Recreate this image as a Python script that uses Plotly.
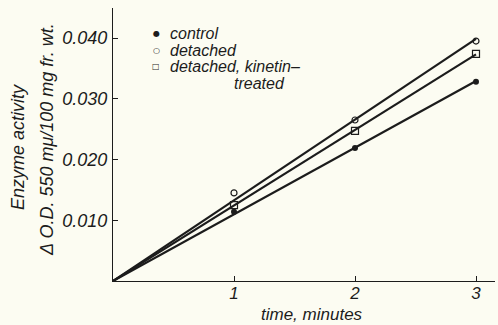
import plotly.graph_objects as go

# Time points (minutes) and measured enzyme activity (delta O.D. 550 mμ / 100 mg fr. wt.)
time_min = [1, 2, 3]
control = [0.0114, 0.0219, 0.0328]
detached = [0.0145, 0.0265, 0.0395]
detached_kinetin = [0.0125, 0.0247, 0.0374]

x_ticks = [1, 2, 3]
y_ticks = [0.010, 0.020, 0.030, 0.040]

FONT = "Liberation Sans"
INK = "#1c1c1c"
BG = "#fcfcf2"


def slope_through_origin(xs, ys):
    return sum(x * y for x, y in zip(xs, ys)) / sum(x * x for x in xs)


fig = go.Figure()

series = [
    (control, dict(symbol="circle", size=6, color=INK, line=dict(width=0))),
    (detached, dict(symbol="circle-open", size=6, color=INK, line=dict(width=1.2))),
    (detached_kinetin, dict(symbol="square-open", size=7, color=INK, line=dict(width=1.2))),
]

for values, marker in series:
    k = slope_through_origin(time_min, values)
    line_x = [0, time_min[-1]]
    fig.add_trace(go.Scatter(x=line_x, y=[k * t for t in line_x], mode="lines",
                             line=dict(color=INK, width=2.2), hoverinfo="skip"))
    fig.add_trace(go.Scatter(x=time_min, y=values, mode="markers", marker=marker))

fig.update_layout(
    width=498, height=325,
    margin=dict(l=113, r=3, t=8, b=44),
    paper_bgcolor=BG, plot_bgcolor=BG,
    showlegend=False,
    font=dict(family=FONT, color=INK),
)

fig.update_xaxes(
    range=[0, 3.157], tickvals=x_ticks, ticktext=[str(v) for v in x_ticks],
    ticks="inside", ticklen=5, tickcolor=INK, tickwidth=1,
    showline=True, linecolor=INK, linewidth=1.2, showgrid=False, zeroline=False,
    tickfont=dict(family=FONT, size=17, style="italic", color=INK),
    ticklabelstandoff=-4,
)
fig.update_yaxes(
    range=[0, 0.04494], tickvals=y_ticks, tickformat=".3f",
    ticks="inside", ticklen=5, tickcolor=INK, tickwidth=1,
    showline=True, linecolor=INK, linewidth=1.2, showgrid=False, zeroline=False,
    tickfont=dict(family=FONT, size=18, style="italic", color=INK),
    ticklabelstandoff=1,
)

ann_font = dict(family=FONT, size=18, style="italic", color=INK)

# Axis titles
fig.add_annotation(text="Enzyme activity", xref="paper", yref="paper", x=-0.2487, y=0.491,
                   xanchor="center", yanchor="middle",
                   textangle=-90, showarrow=False, font=ann_font)
fig.add_annotation(text="Δ O.D. 550 mμ/100 mg fr. wt.", xref="paper", yref="paper",
                   x=-0.1728, y=0.520, xanchor="center", yanchor="middle",
                   textangle=-90, showarrow=False, font=ann_font)
fig.add_annotation(text="time, minutes", xref="paper", yref="paper", x=0.521, y=-0.121,
                   xanchor="center", yanchor="middle", showarrow=False,
                   font=dict(family=FONT, size=17, style="italic", color=INK))

# Key
leg_font = dict(family=FONT, size=16, style="italic", color=INK)
key_rows = [("●", "control", 0.908), ("○", "detached", 0.846), ("□", "detached, kinetin–", 0.784)]
for sym, label, yy in key_rows:
    fig.add_annotation(text=sym, xref="paper", yref="paper", x=0.1126, y=yy,
                       xanchor="center", yanchor="middle", showarrow=False,
                       font=dict(family="DejaVu Sans", size=8, color=INK))
    fig.add_annotation(text=label, xref="paper", yref="paper", x=0.144, y=yy,
                       xanchor="left", yanchor="middle", showarrow=False, font=leg_font)
fig.add_annotation(text="treated", xref="paper", yref="paper", x=0.3115, y=0.722,
                   xanchor="left", yanchor="middle", showarrow=False, font=leg_font)

fig.write_html("out.html")
